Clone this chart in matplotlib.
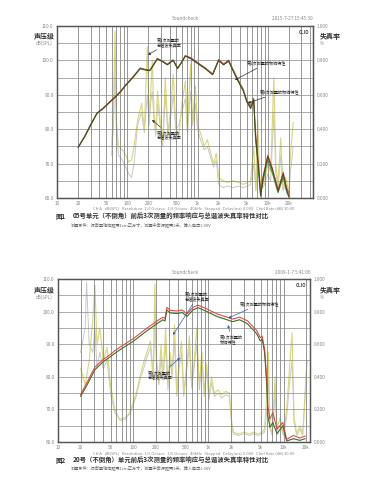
import matplotlib
matplotlib.use("Agg")
import matplotlib.pyplot as plt
from matplotlib.ticker import FixedLocator, NullFormatter

plt.rcParams['font.family'] = ['Noto Sans CJK SC', 'DejaVu Sans']

# ---------------- data: chart 1 ----------------
fr_freq_1 = [20, 25, 30, 37, 45, 52, 65, 80, 94, 120, 153, 180, 210, 268, 320, 372, 450, 520, 600, 670,
             800, 1000, 1300, 1640, 2000, 2350, 2770, 3200, 3700, 4500, 5000, 5700, 6300, 6700, 7400, 7900,
             8600, 10000, 11500, 14000, 16600, 18500, 20000]
fr_run1_1 = [74.8, 78.0, 81.2, 84.6, 86.0, 87.2, 89.0, 90.8, 92.6, 95.0, 97.6, 97.2, 97.0, 100.4, 99.6, 98.7,
             100.0, 97.6, 99.5, 101.3, 100.6, 99.2, 97.6, 95.8, 100.0, 98.7, 99.8, 97.0, 94.3, 91.0, 88.0, 86.0,
             88.5, 78.0, 68.7, 60.5, 66.0, 72.0, 68.5, 62.0, 67.0, 62.5, 60.5]
fr_run2_1 = [74.6, 77.9, 81.0, 84.5, 85.9, 87.1, 89.1, 90.9, 92.7, 95.1, 97.7, 97.3, 97.1, 100.5, 99.7, 98.8,
             100.1, 97.7, 99.6, 101.2, 100.5, 99.1, 97.5, 95.9, 100.1, 98.8, 99.9, 97.1, 94.5, 91.3, 88.3, 86.4,
             88.8, 77.0, 67.5, 61.0, 65.0, 71.0, 67.5, 61.5, 66.0, 61.8, 60.2]
fr_run3_1 = [74.7, 78.1, 81.3, 84.7, 86.1, 87.3, 89.2, 91.0, 92.8, 95.2, 97.8, 97.4, 97.2, 100.6, 99.8, 98.9,
             100.2, 97.8, 99.7, 101.4, 100.8, 99.4, 97.8, 96.1, 100.3, 99.0, 100.1, 97.4, 94.8, 91.5, 88.5, 86.8,
             89.0, 79.0, 69.5, 61.5, 66.5, 72.5, 69.0, 62.5, 67.5, 63.0, 61.5]

thd_freq_1 = [60, 64, 67, 70, 75, 85, 95, 105, 115, 125, 140, 160, 175, 193, 205, 215, 227, 240, 255, 270,
              295, 320, 348, 380, 410, 452, 490, 540, 600, 672, 720, 795, 850, 935, 1000, 1100, 1250, 1380,
              1500, 1690, 1850, 2000, 2300, 2700, 3200, 3800, 4500, 5200, 5700, 6300, 6800, 7200, 7600, 8000,
              9000, 10000, 11000, 12200, 13000, 14000, 15300, 16500, 18000, 20000, 21000, 23000]
thd_run1_1 = [0.30, 0.55, 0.97, 0.45, 0.30, 0.28, 0.25, 0.21, 0.22, 0.30, 0.45, 0.55, 0.40, 0.88, 0.45, 0.60,
              0.80, 0.50, 0.38, 0.62, 0.45, 0.33, 0.70, 0.38, 0.50, 0.72, 0.42, 0.35, 0.55, 0.68, 0.40, 0.78,
              0.45, 0.65, 0.42, 0.38, 0.30, 0.34, 0.28, 0.20, 0.26, 0.12, 0.10, 0.09, 0.10, 0.09, 0.08, 0.09,
              0.10, 0.30, 0.05, 0.45, 0.15, 0.05, 0.10, 0.20, 0.15, 0.70, 0.20, 0.08, 0.35, 0.05, 0.12, 0.03,
              0.25, 0.44]
thd_run3_1 = [0.25, 0.45, 0.80, 0.40, 0.25, 0.22, 0.18, 0.14, 0.12, 0.20, 0.42, 0.50, 0.38, 0.60, 0.42, 0.55,
              0.62, 0.45, 0.36, 0.55, 0.42, 0.30, 0.60, 0.36, 0.45, 0.60, 0.40, 0.42, 0.50, 0.58, 0.38, 0.62,
              0.42, 0.55, 0.40, 0.34, 0.28, 0.30, 0.25, 0.18, 0.22, 0.08, 0.06, 0.07, 0.06, 0.07, 0.06, 0.07,
              0.08, 0.20, 0.04, 0.30, 0.10, 0.04, 0.08, 0.14, 0.10, 0.50, 0.15, 0.06, 0.25, 0.04, 0.08, 0.02,
              0.15, 0.30]

# ---------------- data: chart 2 ----------------
fr_freq_2 = [20, 25, 31, 40, 50, 57, 70, 99, 152, 207, 249, 265, 281, 310, 384, 450, 520, 623, 728, 958,
             1300, 1770, 2100, 2600, 3300, 4400, 4900, 5200, 5600, 6000, 6200, 6600, 7200, 8200, 9800, 11000,
             13500, 16500, 19300]
fr_run1_2 = [74.0, 78.0, 82.2, 84.6, 86.2, 87.2, 88.6, 90.8, 94.1, 96.3, 97.5, 97.1, 100.5, 99.6, 99.4, 99.7,
             98.5, 100.5, 101.2, 100.0, 98.5, 97.5, 96.9, 97.5, 96.3, 93.2, 91.0, 91.5, 87.5, 77.0, 68.0, 64.5,
             66.0, 62.5, 65.0, 60.3, 61.0, 60.5, 61.0]
fr_run3_2 = [74.6, 78.8, 83.0, 85.3, 86.9, 88.0, 89.4, 91.6, 94.9, 97.1, 98.3, 97.9, 101.3, 100.4, 100.2, 100.5,
             99.3, 101.3, 102.0, 100.8, 99.3, 98.3, 97.7, 98.3, 97.2, 94.2, 92.0, 92.5, 88.5, 79.0, 71.0, 67.0,
             69.0, 64.0, 66.0, 60.8, 62.0, 61.2, 61.8]

thd_freq_2 = [20, 23, 24, 26, 29, 31, 33, 36, 40, 45, 50, 57, 67, 78, 90, 99, 110, 123, 140, 152, 170, 185,
              194, 205, 220, 235, 250, 270, 290, 310, 330, 355, 380, 410, 440, 470, 510, 560, 600, 650, 700,
              760, 820, 880, 950, 1020, 1100, 1200, 1350, 1500, 1700, 1900, 2050, 2150, 2500, 3000, 3500, 4000,
              4600, 5200, 5600, 6000, 6300, 6600, 7100, 7700, 8200, 9000, 10000, 11000, 12000, 13000, 13800,
              15000, 16500, 18000, 19300, 20500]
thd_run1_2 = [0.45, 0.35, 0.40, 0.50, 0.75, 0.96, 0.60, 0.70, 0.50, 0.58, 0.35, 0.20, 0.13, 0.14, 0.18, 0.24,
              0.30, 0.40, 0.50, 0.55, 0.62, 0.40, 0.97, 0.50, 0.38, 0.60, 0.40, 0.70, 0.35, 0.55, 0.42, 0.72,
              0.30, 0.50, 0.62, 0.30, 0.45, 0.65, 0.35, 0.50, 0.70, 0.35, 0.55, 0.30, 0.48, 0.28, 0.40, 0.30,
              0.32, 0.29, 0.31, 0.30, 0.12, 0.06, 0.05, 0.06, 0.05, 0.06, 0.05, 0.06, 0.08, 0.30, 0.55, 0.10,
              0.05, 0.40, 0.08, 0.15, 0.05, 0.20, 0.45, 0.67, 0.15, 0.05, 0.10, 0.05, 0.25, 0.50]
thd_run3_2 = [0.55, 0.70, 0.98, 0.60, 0.55, 0.70, 0.45, 0.55, 0.45, 0.50, 0.30, 0.18, 0.14, 0.15, 0.17, 0.22,
              0.28, 0.38, 0.46, 0.52, 0.58, 0.38, 0.80, 0.45, 0.35, 0.52, 0.38, 0.60, 0.32, 0.50, 0.40, 0.62,
              0.28, 0.46, 0.55, 0.28, 0.42, 0.58, 0.33, 0.46, 0.60, 0.32, 0.50, 0.28, 0.44, 0.26, 0.36, 0.28,
              0.30, 0.27, 0.29, 0.28, 0.10, 0.05, 0.04, 0.05, 0.04, 0.05, 0.04, 0.05, 0.06, 0.20, 0.40, 0.08,
              0.04, 0.30, 0.06, 0.10, 0.04, 0.15, 0.35, 0.50, 0.12, 0.04, 0.08, 0.04, 0.30, 0.50]

x_ticks = [10, 20, 50, 100, 200, 500, 1000, 2000, 5000, 10000, 20000]
x_tick_labels = ['10', '20', '50', '100', '200', '500', '1k', '2k', '5k', '10k', '20k']
spl_ticks = [60, 70, 80, 90, 100, 110]
thd_ticks = [0.0, 0.2, 0.4, 0.6, 0.8, 1.0]

YELLOW = '#d8d67e'
GRAYC = '#c8c8c8'
DARK = '#4e4420'
GREEN = '#3f8f3f'
RED = '#d9483a'
TXT = '#888888'

fig = plt.figure(figsize=(3.73, 4.96), dpi=100)
fig.patch.set_facecolor('white')


def make_chart(rect, xmax):
    ax = fig.add_axes(rect)
    ax2 = ax.twinx()
    ax.set_zorder(ax2.get_zorder() + 1)
    ax.patch.set_visible(False)
    ax.set_xscale('log')
    ax.set_xlim(10, xmax)
    ax.set_ylim(60, 110)
    ax2.set_ylim(0, 1)
    ax.xaxis.set_major_locator(FixedLocator(x_ticks))
    ax.set_xticklabels(x_tick_labels)
    minors = [m * d for d in (10, 100, 1000, 10000) for m in range(1, 10) if m * d <= xmax]
    ax.xaxis.set_minor_locator(FixedLocator(minors))
    ax.xaxis.set_minor_formatter(NullFormatter())
    ax.yaxis.set_major_locator(FixedLocator(spl_ticks))
    ax.set_yticklabels(['%.1f' % v for v in spl_ticks])
    ax.yaxis.set_minor_locator(FixedLocator([65, 75, 85, 95, 105]))
    ax2.yaxis.set_major_locator(FixedLocator(thd_ticks))
    ax2.set_yticklabels(['%.3f' % v for v in thd_ticks])
    ax.grid(True, which='both', axis='x', color='#7a7a7a', lw=0.55)
    ax.grid(True, which='both', axis='y', color='#8a8a8a', lw=0.5)
    for a in (ax, ax2):
        a.tick_params(which='both', length=0, labelsize=3.4, labelcolor=TXT, pad=2.5)
        for s in a.spines.values():
            s.set_color('#555555')
            s.set_linewidth(0.9)
    return ax, ax2


def chart_texts(ax, title_y, date, y_lbl):
    fig.text(0.496, title_y, 'Soundcheck', fontsize=3.4, color=TXT, ha='center', va='center')
    fig.text(0.785, title_y, date, fontsize=3.4, color=TXT, ha='center', va='center')
    ax.text(0.985, 0.975, 'CLIO', transform=ax.transAxes, fontsize=3.3, fontweight='bold',
            color='#444444', ha='right', va='top')
    fig.text(0.118, y_lbl, '声压级', fontsize=5, fontweight='bold', color='#333333', ha='center', va='center')
    fig.text(0.118, y_lbl - 0.015, 'dB(SPL)', fontsize=3.2, color=TXT, ha='center', va='center')
    fig.text(0.885, y_lbl, '失真率', fontsize=5, fontweight='bold', color='#333333', ha='center', va='center')
    fig.text(0.862, y_lbl - 0.015, '%', fontsize=3.2, color=TXT, ha='center', va='center')


def note(ax, text, xy, xytext, color):
    ax.annotate(text, xy=xy, xytext=xytext, fontsize=3.0, color='#222222', ha='left', va='center',
                linespacing=1.0,
                arrowprops=dict(arrowstyle='-|>', color=color, lw=0.5, mutation_scale=3.5,
                                shrinkA=0, shrinkB=0))


info = ('CH A   dB(SPL)   Resolution: 1/6 Octave   1/6 Octave   40kHz   Stepped   '
        'Delay(ms) 0.000   Chirl Rate (dB) 30.00')
cond = '测量条件：扬声器轴向距离1cm正方寸，测量中声源距离1米，输入电压1.00V'

# ---------------- chart 1 ----------------
ax, ax2 = make_chart([0.1528, 0.6008, 0.6863, 0.3468], 44000)
ax2.plot(thd_freq_1, thd_run3_1, color=GRAYC, lw=0.7)
ax2.plot(thd_freq_1, thd_run1_1, color=YELLOW, lw=0.8)
ax.plot(fr_freq_1, fr_run3_1, color=RED, lw=0.7)
ax.plot(fr_freq_1, fr_run2_1, color=GREEN, lw=0.7)
ax.plot(fr_freq_1, fr_run1_1, color=DARK, lw=0.75)
chart_texts(ax, 0.962, '2015-7-27 15:45:30', 0.927)
note(ax, '第1次测量的\n总谐波失真率', (197, 101.6), (264, 105.3), '#333333')
note(ax, '第3次测量的\n总谐波失真率', (225, 82.7), (264, 78.4), '#333333')
note(ax, '第1次测量的频响特性', (3400, 94.3), (5060, 99.2), '#333333')
note(ax, '第3次测量的频响特性', (5200, 87.6), (7800, 90.8), '#333333')
fig.text(0.52, 0.579, info, fontsize=2.9, color=TXT, ha='center', va='center')
fig.text(0.148, 0.563, '图1', fontsize=4.6, fontweight='bold', color='#333333', ha='left', va='center')
fig.text(0.196, 0.563, '05号单元（不倒角）前后3次测量的频率响应与总谐波失真率特性对比',
         fontsize=4.6, fontweight='bold', color='#333333', ha='left', va='center')
fig.text(0.19, 0.546, cond, fontsize=3.0, color='#666666', ha='left', va='center')

# ---------------- chart 2 ----------------
bx, bx2 = make_chart([0.1555, 0.1089, 0.6756, 0.3286], 22500)
bx2.plot(thd_freq_2, thd_run3_2, color=GRAYC, lw=0.7)
bx2.plot(thd_freq_2, thd_run1_2, color=YELLOW, lw=0.8)
bx.plot(fr_freq_2, fr_run1_2, color=GREEN, lw=0.75)
bx.plot(fr_freq_2, fr_run3_2, color=RED, lw=0.75)
bx.plot(fr_freq_2, fr_run1_2, color=DARK, lw=0.5, alpha=0.6)
chart_texts(bx, 0.450, '2009-1-7 5:41:06', 0.415)
note(bx, '第1次测量的\n总谐波失真率', (338, 92.8), (490, 104.6), '#3a5fb0')
note(bx, '第1次测量的频响特性', (1830, 98.0), (2620, 102.3), '#3a5fb0')
note(bx, '第3次测量的\n频响特性', (1830, 95.9), (1420, 91.6), '#3a5fb0')
note(bx, '第3次测量的\n总谐波失真率', (420, 85.8), (157, 80.6), '#3a5fb0')
fig.text(0.52, 0.085, info, fontsize=2.9, color=TXT, ha='center', va='center')
fig.text(0.148, 0.071, '图2', fontsize=4.6, fontweight='bold', color='#333333', ha='left', va='center')
fig.text(0.196, 0.071, '20号（不倒角）单元前后3次测量的频率响应与总谐波失真率特性对比',
         fontsize=4.6, fontweight='bold', color='#333333', ha='left', va='center')
fig.text(0.19, 0.057, cond, fontsize=3.0, color='#666666', ha='left', va='center')

fig.savefig('out.png', dpi=100, facecolor='white')
